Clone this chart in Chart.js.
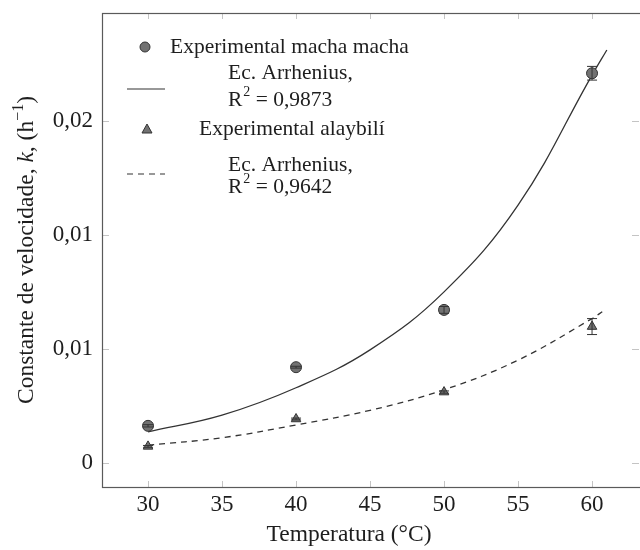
<!DOCTYPE html>
<html>
<head>
<meta charset="utf-8">
<script src="https://cdn.jsdelivr.net/npm/chart.js@4.4.1/dist/chart.umd.min.js"></script>
<style>
  html, body { margin: 0; padding: 0; background: #fff; }
  #wrap { width: 640px; height: 550px; }
</style>
</head>
<body>
<div id="wrap"><canvas id="myChart" width="640" height="550"></canvas></div>
<script>
// temperatures (°C) of the experiments
const temps = [30, 40, 50, 60];
// rate constants k (h^-1)
const kMacha = [0.00163, 0.00420, 0.00671, 0.01708];
const errMacha = [0.00005, 0.00004, 0.00015, 0.00030];
const kAlay = [0.00073, 0.00193, 0.00311, 0.00598];
const errAlay = [0.00004, 0.00004, 0.00005, 0.00035];

// Arrhenius fit lines
const fitMachaT = [30, 35, 40, 45, 50, 55, 60, 61];
const fitMachaK = [0.00137, 0.0021, 0.0033, 0.00496, 0.0075, 0.0113, 0.0170, 0.0181];
const fitAlayT = [30, 35, 40, 45, 50, 55, 60, 60.8];
const fitAlayK = [0.00078, 0.00111, 0.00167, 0.00231, 0.00321, 0.00451, 0.00633, 0.00668];

const xTicks = [30, 35, 40, 45, 50, 55, 60];
const yTicks = [0, 0.005, 0.01, 0.015];
const yTickLabels = ['0', '0,01', '0,01', '0,02'];

const SERIF = "'Liberation Serif', 'DejaVu Serif', serif";
const INK = '#1e1e1e';

const toXY = (xs, ys) => xs.map((x, i) => ({ x: x, y: ys[i] }));

// no extra room for tick labels, the chart area is set by layout padding
const noPad = s => {
    s.paddingTop = 0; s.paddingBottom = 0;
    s.paddingLeft = 0; s.paddingRight = 0;
};

// frame + inward tick marks
const framePlugin = {
    id: 'frame',
    beforeDatasetsDraw(chart) {
        const { ctx, chartArea: a, scales } = chart;
        ctx.save();
        ctx.strokeStyle = '#c4c4c4';
        ctx.lineWidth = 1;
        ctx.beginPath();
        xTicks.forEach(t => {
            const px = Math.round(scales.x.getPixelForValue(t)) + 0.5;
            ctx.moveTo(px, a.bottom); ctx.lineTo(px, a.bottom - 6);
            ctx.moveTo(px, a.top); ctx.lineTo(px, a.top + 6);
        });
        yTicks.forEach(t => {
            const py = Math.round(scales.y.getPixelForValue(t)) + 0.5;
            ctx.moveTo(a.left, py); ctx.lineTo(a.left + 7, py);
            ctx.moveTo(a.right - 1, py); ctx.lineTo(a.right - 8, py);
        });
        ctx.stroke();
        ctx.strokeStyle = '#5a5a5a';
        ctx.lineWidth = 1.2;
        ctx.strokeRect(Math.round(a.left) + 0.5, Math.round(a.top) + 0.5, a.right - a.left + 4, Math.round(a.bottom - a.top));
        ctx.restore();
    }
};

// vertical error bars with caps
const errorBarPlugin = {
    id: 'errbars',
    afterDatasetsDraw(chart) {
        const { ctx, scales } = chart;
        const sets = [[kMacha, errMacha], [kAlay, errAlay]];
        ctx.save();
        ctx.strokeStyle = '#333';
        ctx.lineWidth = 1;
        sets.forEach(([ks, es]) => {
            temps.forEach((t, i) => {
                const px = scales.x.getPixelForValue(t);
                const y1 = scales.y.getPixelForValue(ks[i] - es[i]);
                const y2 = scales.y.getPixelForValue(ks[i] + es[i]);
                ctx.beginPath();
                ctx.moveTo(px, y1); ctx.lineTo(px, y2);
                ctx.moveTo(px - 5, y1); ctx.lineTo(px + 5, y1);
                ctx.moveTo(px - 5, y2); ctx.lineTo(px + 5, y2);
                ctx.stroke();
            });
        });
        ctx.restore();
    }
};

const LEG_FONT = '21.5px ' + SERIF;

function drawR2(ctx, x, y, value) {
    ctx.font = LEG_FONT;
    ctx.fillText('R', x, y);
    let w = ctx.measureText('R').width;
    ctx.font = '14px ' + SERIF;
    ctx.fillText('2', x + w + 1, y - 8);
    w += ctx.measureText('2').width + 1;
    ctx.font = LEG_FONT;
    ctx.fillText(' = ' + value, x + w, y);
}

// legend and axis titles
const textPlugin = {
    id: 'texts',
    afterDraw(chart) {
        const { ctx, chartArea: a } = chart;
        const L = a.left, T = a.top;
        ctx.save();
        ctx.fillStyle = INK;
        ctx.textBaseline = 'middle';
        ctx.textAlign = 'left';

        // legend
        ctx.fillStyle = '#727272';
        ctx.strokeStyle = '#333';
        ctx.lineWidth = 1;
        ctx.beginPath();
        ctx.arc(L + 43, T + 34, 5, 0, Math.PI * 2);
        ctx.fill(); ctx.stroke();
        ctx.beginPath();
        ctx.moveTo(L + 45, T + 111); ctx.lineTo(L + 50, T + 120); ctx.lineTo(L + 40, T + 120);
        ctx.closePath();
        ctx.fill(); ctx.stroke();

        ctx.strokeStyle = '#333';
        ctx.lineWidth = 1.2;
        ctx.beginPath();
        ctx.moveTo(L + 25, T + 76); ctx.lineTo(L + 63, T + 76);
        ctx.stroke();
        ctx.setLineDash([6, 5]);
        ctx.beginPath();
        ctx.moveTo(L + 25, T + 161); ctx.lineTo(L + 63, T + 161);
        ctx.stroke();
        ctx.setLineDash([]);

        ctx.fillStyle = INK;
        ctx.font = LEG_FONT;
        ctx.fillText('Experimental macha macha', L + 68, T + 34);
        ctx.fillText('Ec. Arrhenius,', L + 126, T + 60);
        drawR2(ctx, L + 126, T + 87, '0,9873');
        ctx.font = LEG_FONT;
        ctx.fillText('Experimental alaybilí', L + 97, T + 116);
        ctx.fillText('Ec. Arrhenius,', L + 126, T + 152);
        drawR2(ctx, L + 126, T + 174, '0,9642');

        // x title
        ctx.font = '23.5px ' + SERIF;
        ctx.textAlign = 'center';
        ctx.fillText('Temperatura (°C)', 349, 535);

        // y title: Constante de velocidade, k, (h^-1)
        const parts = [
            ['Constante de velocidade, ', '23.5px ' + SERIF, 0],
            ['k', 'italic 23.5px ' + SERIF, 0],
            [', (h', '23.5px ' + SERIF, 0],
            ['\u22121', '16px ' + SERIF, -8],
            [')', '23.5px ' + SERIF, 0]
        ];
        ctx.textAlign = 'left';
        let total = 0;
        parts.forEach(p => { ctx.font = p[1]; total += ctx.measureText(p[0]).width; });
        ctx.translate(27, (a.top + a.bottom) / 2);
        ctx.rotate(-Math.PI / 2);
        let cx = -total / 2;
        parts.forEach(p => {
            ctx.font = p[1];
            ctx.fillText(p[0], cx, p[2]);
            cx += ctx.measureText(p[0]).width;
        });
        ctx.restore();
    }
};

const chart = new Chart(document.getElementById('myChart'), {
    type: 'scatter',
    data: {
        datasets: [
            {
                label: 'Experimental macha macha',
                data: toXY(temps, kMacha),
                pointStyle: 'circle',
                pointRadius: 5.5,
                backgroundColor: '#727272',
                borderColor: '#333',
                borderWidth: 1,
                order: 1
            },
            {
                label: 'Ec. Arrhenius, R2 = 0,9873',
                data: toXY(fitMachaT, fitMachaK),
                showLine: true,
                tension: 0.4,
                pointRadius: 0,
                borderColor: '#333',
                borderWidth: 1.3,
                order: 2
            },
            {
                label: 'Experimental alaybilí',
                data: toXY(temps, kAlay),
                pointStyle: 'triangle',
                pointRadius: 5.5,
                backgroundColor: '#727272',
                borderColor: '#333',
                borderWidth: 1,
                order: 1
            },
            {
                label: 'Ec. Arrhenius, R2 = 0,9642',
                data: toXY(fitAlayT, fitAlayK),
                showLine: true,
                tension: 0.4,
                pointRadius: 0,
                borderColor: '#333',
                borderWidth: 1.3,
                borderDash: [6, 5],
                order: 2
            }
        ]
    },
    options: {
        responsive: false,
        animation: false,
        devicePixelRatio: 1,
        layout: { autoPadding: false, padding: { top: 13, left: 0, right: 0, bottom: 0 } },
        plugins: { legend: { display: false }, tooltip: { enabled: false } },
        scales: {
            x: {
                type: 'linear',
                min: 26.89,
                max: 63.24,
                afterBuildTicks: s => { s.ticks = xTicks.map(v => ({ value: v })); },
                afterFit: s => { s.height = 63; noPad(s); },
                grid: { display: false },
                border: { display: false },
                ticks: {
                    color: INK,
                    padding: -4,
                    maxRotation: 0,
                    font: { family: SERIF, size: 23 },
                    callback: v => String(v)
                }
            },
            y: {
                type: 'linear',
                min: -0.00105,
                max: 0.01972,
                afterBuildTicks: s => { s.ticks = yTicks.map(v => ({ value: v })); },
                afterFit: s => { s.width = 102; noPad(s); },
                grid: { display: false },
                border: { display: false },
                ticks: {
                    color: INK,
                    padding: 1,
                    font: { family: SERIF, size: 23 },
                    callback: (v, i) => yTickLabels[i]
                }
            }
        }
    },
    plugins: [framePlugin, errorBarPlugin, textPlugin]
});
</script>
</body>
</html>
